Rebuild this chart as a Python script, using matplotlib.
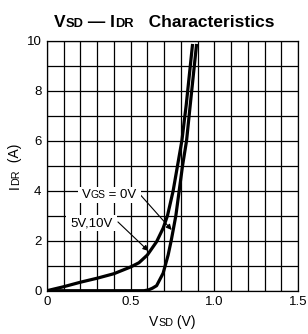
import numpy as np
import matplotlib
matplotlib.use("Agg")
from matplotlib import pyplot as plt
from matplotlib import transforms
from matplotlib.patches import Rectangle

plt.rcParams['font.family'] = ['Liberation Sans', 'DejaVu Sans']

# curve: VGS = 5V, 10V
vsd_on = [0, 0.1, 0.2, 0.3, 0.4, 0.5, 0.55, 0.6, 0.655, 0.694, 0.72, 0.754, 0.78, 0.806, 0.832, 0.87]
idr_on = [0, 0.16, 0.34, 0.5, 0.68, 0.95, 1.12, 1.43, 1.96, 2.5, 3.0, 4.0, 5.0, 6.0, 7.43, 9.87]

# VGS = 0V (body diode)
vsd_off = [0, 0.58, 0.606, 0.63, 0.655, 0.694, 0.724, 0.743, 0.77, 0.79, 0.81, 0.834, 0.856, 0.894]
idr_off = [0, 0, 0.03, 0.1, 0.2, 0.7, 1.43, 2.03, 3.0, 4.0, 5.0, 6.0, 7.43, 9.87]

x_ticks = [0, 0.5, 1.0, 1.5]
x_ticklabels = ['0', '0.5', '1.0', '1.5']
y_ticks = [0, 2, 4, 6, 8, 10]


def put(fig, x, y, pieces, transform, rotation=0, ha='center', weight='normal', zorder=5):
    # draw text made of pieces (text, size) side by side on one baseline
    r = fig.canvas.get_renderer()
    widths = []
    for s, sz in pieces:
        t = fig.text(0, 0, s, fontsize=sz, weight=weight)
        widths.append(t.get_window_extent(r).width)
        t.remove()
    total = sum(widths)
    start = {'center': -total / 2, 'left': 0, 'right': -total}[ha]
    out = []
    pos = start
    for (s, sz), w in zip(pieces, widths):
        if rotation == 0:
            tr = transforms.offset_copy(transform, fig, x=pos, y=0, units='dots')
        else:
            tr = transforms.offset_copy(transform, fig, x=0, y=pos, units='dots')
        t = fig.text(x, y, s, fontsize=sz, weight=weight, transform=tr,
                     rotation=rotation, ha='left', va='baseline',
                     rotation_mode='anchor', zorder=zorder)
        out.append(t)
        pos += w
    return out


fig = plt.figure(figsize=(3.08, 3.34), dpi=100)
ax = fig.add_axes([47 / 308, 43.3 / 334, 251 / 308, 250 / 334])

ax.plot(vsd_on, idr_on, color='black', lw=2.3, solid_capstyle='butt', zorder=3)
ax.plot(vsd_off, idr_off, color='black', lw=2.3, solid_capstyle='butt', zorder=3)

ax.set_xlim(0, 1.5)
ax.set_ylim(0, 10)
ax.set_xticks(x_ticks)
ax.set_xticklabels(x_ticklabels)
ax.set_xticks(np.arange(0, 1.51, 0.1), minor=True)
ax.set_yticks(y_ticks)
ax.set_yticks(np.arange(0, 10.1, 1), minor=True)
ax.grid(True, which='both', color='black', lw=0.9)
ax.tick_params(which='both', length=0, labelsize=9.5, pad=4)
for sp in ax.spines.values():
    sp.set_linewidth(0.9)

# labels
fig.canvas.draw()
put(fig, 164 / 308, 307 / 334,
    [('V', 12.5), ('SD', 9.3), (' \u2014 I', 12.5), ('DR', 9.3), ('   Characteristics', 12.5)],
    fig.transFigure, weight='bold')
put(fig, 172.5 / 308, 8 / 334, [('V', 10), ('SD', 7.8), (' (V)', 10)], fig.transFigure)
put(fig, 19 / 308, 168 / 334, [('I', 10), ('DR', 7.8), ('  (A)', 10)], fig.transFigure,
    rotation=90)

# curve labels with white boxes
r = fig.canvas.get_renderer()
for (lx, ly, pieces) in [(0.371, 3.7, [('V', 9.5), ('GS', 7.5), (' = 0V', 9.5)]),
                         (0.267, 2.58, [('5V,10V', 9.5)])]:
    ts = put(fig, lx, ly, pieces, ax.transData, zorder=6)
    bbs = [t.get_window_extent(r) for t in ts]
    x0 = min(b.x0 for b in bbs) - 4
    x1 = max(b.x1 for b in bbs) + 4
    y0 = min(b.y0 for b in bbs) - 2
    y1 = max(b.y1 for b in bbs) + 2
    fig.patches.append(Rectangle((x0, y0), x1 - x0, y1 - y0, facecolor='white',
                                 edgecolor='none', transform=None, zorder=5))

ax.annotate('', xy=(0.745, 2.43), xytext=(0.556, 3.85),
            arrowprops=dict(arrowstyle='-|>', color='black', lw=0.8,
                            mutation_scale=8, shrinkA=0, shrinkB=0))
ax.annotate('', xy=(0.606, 1.59), xytext=(0.424, 2.75),
            arrowprops=dict(arrowstyle='-|>', color='black', lw=0.8,
                            mutation_scale=8, shrinkA=0, shrinkB=0))

fig.savefig('out.png', dpi=100)
